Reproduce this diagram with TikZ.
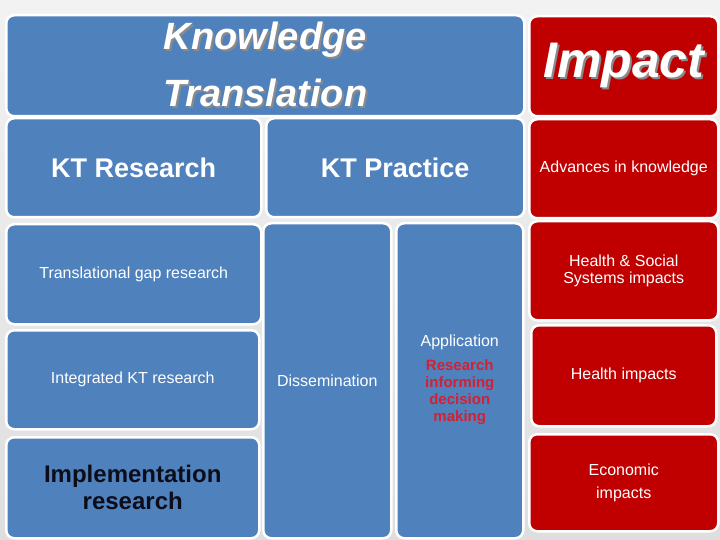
\documentclass[tikz,border=0pt]{standalone}
\usepackage{fontspec}
\setmainfont{Liberation Sans}
\definecolor{ktblue}{HTML}{4F81BD}
\definecolor{impred}{HTML}{C00000}
\definecolor{txtred}{HTML}{D42032}
\definecolor{shadowgray}{HTML}{8A8A8A}
\definecolor{darktxt}{HTML}{0D0D1A}
\newcommand{\shadowtxt}[1]{\leavevmode\rlap{\kern2pt\raisebox{-2pt}{\textcolor{shadowgray}{#1}}}#1}
\tikzset{
  panel/.style={draw=white, line width=2.5pt, rounded corners=8pt, anchor=north west,
    inner sep=0pt, align=center, text=white},
  bluepanel/.style={panel, fill=ktblue},
  redpanel/.style={panel, fill=impred},
  smalltxt/.style={font=\fontsize{16}{19}\selectfont}
}
\begin{document}
\begin{tikzpicture}[x=1pt,y=-1pt]
\shade[top color=black!5, bottom color=black!13] (0,0) rectangle (720,540);
\useasboundingbox (0,0) rectangle (720,540);
% Knowledge Translation column
\node[bluepanel, minimum width=518pt, minimum height=101pt,
  font=\fontsize{38}{57}\selectfont\bfseries\itshape] (kt) at (5,14)
  {\shadowtxt{Knowledge}\\\shadowtxt{Translation}};
\node[bluepanel, minimum width=255pt, minimum height=99pt,
  font=\fontsize{27}{30}\selectfont\bfseries] (ktr) at (5,117) {KT Research};
\node[bluepanel, minimum width=258pt, minimum height=99pt,
  font=\fontsize{27}{30}\selectfont\bfseries] (ktp) at (265,117) {KT Practice};
\node[bluepanel, smalltxt, minimum width=255pt, minimum height=100pt] (tg) at (5,223)
  {Translational gap research};
\node[bluepanel, smalltxt, minimum width=253pt, minimum height=99pt] (ikt) at (5,329)
  {Integrated KT research};
\node[bluepanel, minimum width=253pt, minimum height=101pt, text=darktxt,
  font=\fontsize{24}{27}\selectfont\bfseries] (impl) at (5,436)
  {Implementation\\research};
\node[bluepanel, smalltxt, minimum width=128pt, minimum height=315pt] (dis) at (262,222)
  {Dissemination};
\node[bluepanel, minimum width=127pt, minimum height=315pt, font=\fontsize{16}{19}\selectfont] (app) at (395,222)
  {Application\\[7pt]\textcolor{txtred}{\fontsize{15}{17}\selectfont\bfseries
   \begin{tabular}{@{}c@{}}Research\\informing\\decision\\making\end{tabular}}};
% Impact column
\node[redpanel, minimum width=189pt, minimum height=100pt,
  font=\fontsize{50}{55}\selectfont\bfseries\itshape] (imp) at (528,15)
  {\shadowtxt{Impact}};
\node[redpanel, smalltxt, minimum width=189pt, minimum height=99pt] (adv) at (528,118)
  {Advances in knowledge};
\node[redpanel, minimum width=189pt, minimum height=99pt,
  font=\fontsize{16}{16.5}\selectfont] (hs) at (528,220)
  {Health \& Social\\Systems impacts};
\node[redpanel, smalltxt, minimum width=185pt, minimum height=101pt] (hi) at (530,324)
  {Health impacts};
\node[redpanel, minimum width=189pt, minimum height=97pt,
  font=\fontsize{16}{23}\selectfont] (eco) at (528,433)
  {Economic\\impacts};
\end{tikzpicture}
\end{document}
